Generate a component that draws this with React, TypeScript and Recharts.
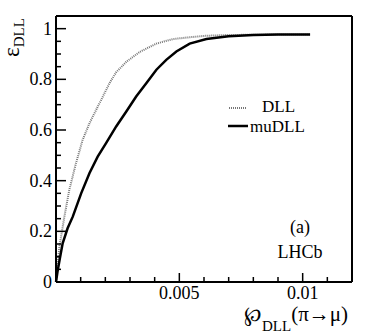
import React from 'react';
import { LineChart, Line, XAxis, YAxis } from 'recharts';

// efficiency vs misid curves
const dllX = [0, 0.00005, 0.00014, 0.00034, 0.00054, 0.00081, 0.00108, 0.00136, 0.00163, 0.0019, 0.00217, 0.00244, 0.00285, 0.00339, 0.00407, 0.00474, 0.0055, 0.0061, 0.007, 0.008, 0.009, 0.0103];
const dllY = [0, 0.06, 0.14, 0.258, 0.364, 0.469, 0.561, 0.627, 0.68, 0.732, 0.785, 0.828, 0.869, 0.908, 0.941, 0.959, 0.967, 0.972, 0.975, 0.976, 0.977, 0.977];

const muX = [0, 0.00006, 0.00015, 0.00027, 0.00047, 0.00068, 0.00102, 0.00136, 0.00169, 0.00203, 0.00244, 0.00285, 0.00325, 0.00366, 0.00407, 0.00447, 0.00488, 0.00542, 0.0061, 0.007, 0.008, 0.009, 0.0103];
const muY = [0, 0.04, 0.09, 0.153, 0.212, 0.258, 0.35, 0.43, 0.495, 0.548, 0.614, 0.673, 0.732, 0.785, 0.838, 0.877, 0.91, 0.941, 0.959, 0.97, 0.975, 0.977, 0.977];

const xTicks = [0, 0.001, 0.002, 0.003, 0.004, 0.005, 0.006, 0.007, 0.008, 0.009, 0.01, 0.011, 0.012];
const xLabels: Record<string, string> = { '0.005': '0.005', '0.01': '0.01' };
const yTicks = [0, 0.05, 0.1, 0.15, 0.2, 0.25, 0.3, 0.35, 0.4, 0.45, 0.5, 0.55, 0.6, 0.65, 0.7, 0.75, 0.8, 0.85, 0.9, 0.95, 1];
const yLabels: Record<string, string> = { '0': '0', '0.2': '0.2', '0.4': '0.4', '0.6': '0.6', '0.8': '0.8', '1': '1' };

const dllData = dllX.map((x, i) => ({ x, y: dllY[i] }));
const muData = muX.map((x, i) => ({ x, y: muY[i] }));

const FONT = 'Liberation Serif, DejaVu Serif, serif';
const textStyle = { fontFamily: FONT };
const xMajor = (v: number) => Math.abs(v * 200 - Math.round(v * 200)) < 1e-6;
const yMajor = (v: number) => Math.abs(v * 5 - Math.round(v * 5)) < 1e-6;

const BottomTick = ({ x, y, payload }: any) => {
  const v = payload.value;
  const len = xMajor(v) ? 9 : 5;
  const label = xLabels[String(v)];
  return (
    <g>
      <line x1={x} x2={x} y1={y} y2={y - len} stroke="#000" strokeWidth={1.5} />
      {label && (
        <text x={x} y={y + 17} textAnchor="middle" style={textStyle} fontSize={18} fill="#000">
          {label}
        </text>
      )}
    </g>
  );
};

const TopTick = ({ x, y, payload }: any) => {
  const len = xMajor(payload.value) ? 9 : 5;
  return <line x1={x} x2={x} y1={y} y2={y + len} stroke="#000" strokeWidth={1.5} />;
};

const LeftTick = ({ x, y, payload }: any) => {
  const v = payload.value;
  const len = yMajor(v) ? 10 : 5;
  const label = yLabels[String(v)];
  return (
    <g>
      <line x1={x} x2={x + len} y1={y} y2={y} stroke="#000" strokeWidth={1.5} />
      {label && (
        <text x={x - 4} y={y + 6} textAnchor="end" style={textStyle} fontSize={18} fill="#000">
          {label}
        </text>
      )}
    </g>
  );
};

const RightTick = ({ x, y, payload }: any) => {
  const len = yMajor(payload.value) ? 10 : 5;
  return <line x1={x} x2={x - len} y1={y} y2={y} stroke="#000" strokeWidth={1.5} />;
};

const axisLine = { stroke: '#000', strokeWidth: 2 };

export default function App() {
  return (
    <div style={{ position: 'relative', width: 374, height: 336, background: '#fff' }}>
      <style>{'body{margin:0}'}</style>
      <LineChart width={374} height={336} margin={{ top: 0, right: 0, bottom: 0, left: 0 }}>
        <XAxis
          xAxisId="b"
          dataKey="x"
          type="number"
          domain={[0, 0.012]}
          ticks={xTicks}
          interval={0}
          height={54}
          tickSize={0}
          tickMargin={0}
          tickLine={false}
          axisLine={axisLine}
          tick={<BottomTick />}
        />
        <XAxis
          xAxisId="t"
          orientation="top"
          dataKey="x"
          type="number"
          domain={[0, 0.012]}
          ticks={xTicks}
          interval={0}
          height={16}
          tickSize={0}
          tickMargin={0}
          tickLine={false}
          axisLine={axisLine}
          tick={<TopTick />}
        />
        <YAxis
          yAxisId="l"
          type="number"
          domain={[0, 1.05]}
          ticks={yTicks}
          interval={0}
          width={56}
          tickSize={0}
          tickMargin={0}
          tickLine={false}
          axisLine={axisLine}
          tick={<LeftTick />}
        />
        <YAxis
          yAxisId="r"
          orientation="right"
          type="number"
          domain={[0, 1.05]}
          ticks={yTicks}
          interval={0}
          width={22}
          tickSize={0}
          tickMargin={0}
          tickLine={false}
          axisLine={axisLine}
          tick={<RightTick />}
        />
        <Line
          xAxisId="b"
          yAxisId="l"
          data={dllData}
          dataKey="y"
          name="DLL"
          stroke="#777"
          strokeWidth={2}
          strokeDasharray="1 1"
          dot={false}
          type="linear"
          isAnimationActive={false}
        />
        <Line
          xAxisId="b"
          yAxisId="l"
          data={muData}
          dataKey="y"
          name="muDLL"
          stroke="#000"
          strokeWidth={2.5}
          dot={false}
          type="linear"
          isAnimationActive={false}
        />
      </LineChart>
      <svg
        width={374}
        height={336}
        style={{ position: 'absolute', left: 0, top: 0, pointerEvents: 'none', fontFamily: FONT }}
      >
        {/* legend */}
        <line x1={229} x2={247} y1={108} y2={108} stroke="#777" strokeWidth={2} strokeDasharray="1 1" />
        <text x={262} y={112} fontSize={17}>DLL</text>
        <line x1={228} x2={248} y1={126} y2={126} stroke="#000" strokeWidth={2.5} />
        <text x={250} y={132} fontSize={17}>muDLL</text>
        {/* annotations */}
        <text x={300} y={233} fontSize={18} textAnchor="middle">(a)</text>
        <text x={300} y={258} fontSize={18} textAnchor="middle">LHCb</text>
        {/* axis titles */}
        <text transform="rotate(-90 19 57)" x={19} y={57} fontSize={23}>
          ε<tspan fontSize={15} dy={5}>DLL</tspan>
        </text>
        <text x={244} y={321} fontSize={21}>
          ℘<tspan fontSize={15} dy={10}>DLL</tspan>
          <tspan fontSize={21} dy={-10}>(π→μ)</tspan>
        </text>
      </svg>
    </div>
  );
}
